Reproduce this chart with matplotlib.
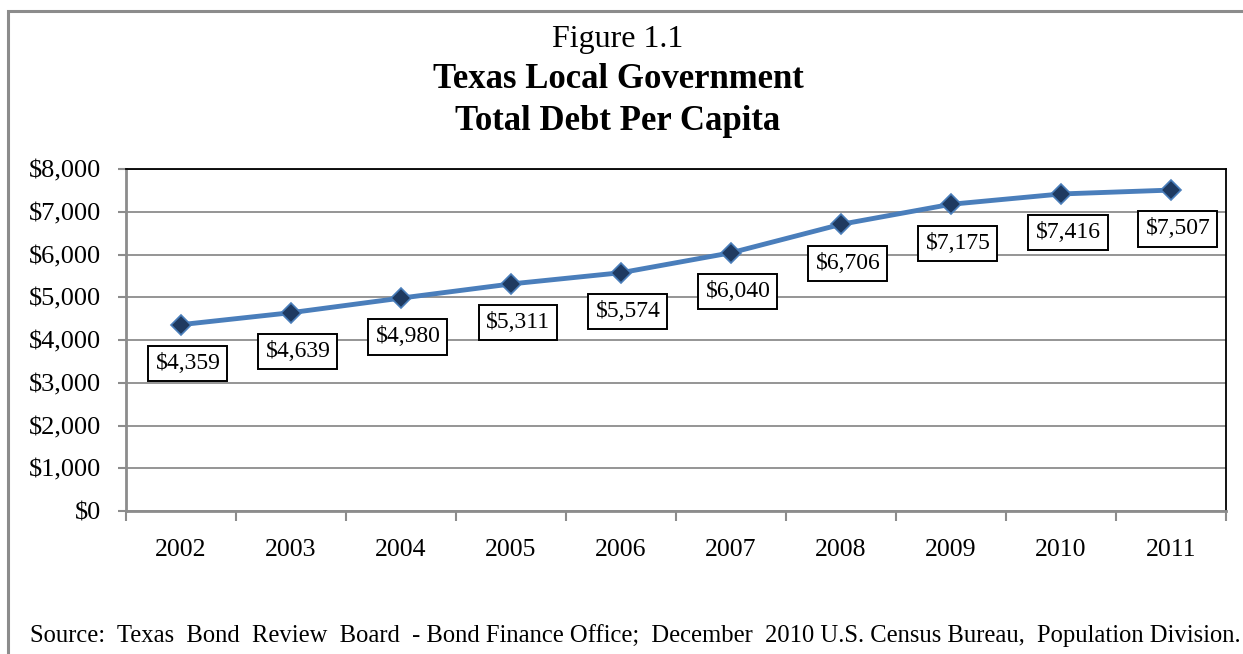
import matplotlib
matplotlib.use("Agg")
import matplotlib.pyplot as plt
from matplotlib.patches import Rectangle

years = ["2002", "2003", "2004", "2005", "2006", "2007", "2008", "2009", "2010", "2011"]
debt = [4359, 4639, 4980, 5311, 5574, 6040, 6706, 7175, 7416, 7507]
yticks = [0, 1000, 2000, 3000, 4000, 5000, 6000, 7000, 8000]

plt.rcParams['font.family'] = ['Liberation Serif', 'DejaVu Serif']

W, H = 1243, 654
fig = plt.figure(figsize=(W / 100, H / 100), dpi=100)

# outer border
fig.add_artist(Rectangle((8 / W, -0.1), 1.2, (1 - 11 / H) + 0.1, transform=fig.transFigure,
                         fill=False, edgecolor='#8c8c8c', linewidth=2.2))

left, right, top, bottom = 126, 1226, 169, 511
ax = fig.add_axes([left / W, 1 - bottom / H, (right - left) / W, (bottom - top) / H])

x = list(range(len(years)))
ax.plot(x, debt, color='#4a7ebb', linewidth=3.5, zorder=3, solid_joinstyle='round')
ax.plot(x, debt, linestyle='none', marker='D', markersize=10,
        markerfacecolor='#1f3a60', markeredgecolor='#4a7ebb', markeredgewidth=1.2, zorder=4)

ax.set_xlim(-0.5, len(years) - 0.5)
ax.set_ylim(0, 8000)
ax.set_yticks(yticks)
ax.set_yticklabels([f"${v:,}" for v in yticks], fontsize=19)
ax.set_xticks(x)
ax.set_xticklabels(years, fontsize=18.5)
ax.tick_params(axis='x', length=0, pad=20)
ax.set_xticks([i - 0.5 for i in range(len(years) + 1)], minor=True)
ax.tick_params(axis='x', which='minor', length=7, width=1.5, color='#8c8c8c', direction='out')
ax.tick_params(axis='y', length=6, width=1.5, color='#8c8c8c', pad=12)

ax.grid(axis='y', color='#8c8c8c', linewidth=1.3)
ax.set_axisbelow(True)
ax.spines['left'].set_color('#8c8c8c')
ax.spines['left'].set_linewidth(2)
ax.spines['bottom'].set_color('#8c8c8c')
ax.spines['bottom'].set_linewidth(2)
ax.spines['top'].set_color('black')
ax.spines['top'].set_linewidth(1.3)
ax.spines['right'].set_color('black')
ax.spines['right'].set_linewidth(1.3)

for xi, v in zip(x, debt):
    ax.annotate(f"${v:,}", (xi, v), xytext=(5, -28), textcoords='offset points',
                ha='center', va='center', fontsize=17, zorder=5,
                bbox=dict(boxstyle='square,pad=0.3', facecolor='white', edgecolor='black', linewidth=1.4))

fig.text(618 / W, 1 - 39 / H, "Figure 1.1", ha='center', va='center', fontsize=23)
fig.text(618 / W, 1 - 80 / H, "Texas Local Government", ha='center', va='center',
         fontsize=25, fontweight='bold')
fig.text(618 / W, 1 - 122 / H, "Total Debt Per Capita", ha='center', va='center',
         fontsize=25, fontweight='bold')

fig.text(30 / W, 1 - 636 / H,
         "Source:  Texas  Bond  Review  Board  - Bond Finance Office;  December  2010 U.S. Census Bureau,  Population Division.",
         ha='left', va='center', fontsize=17.7)

fig.savefig("out.png", dpi=100)
